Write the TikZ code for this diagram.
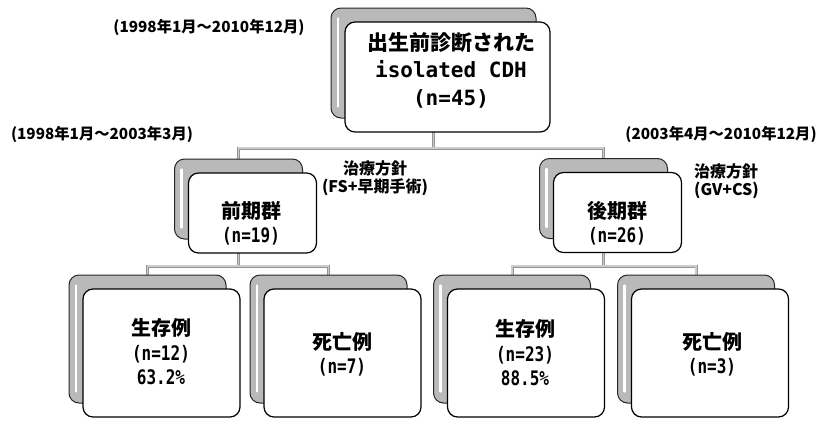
\documentclass[tikz,border=0pt]{standalone}
\usepackage{fontspec}
\setmainfont{Noto Sans CJK JP}
\newfontfamily\latmono[FakeStretch=0.8]{DejaVu Sans Mono}
\newfontfamily\latmonotop{DejaVu Sans Mono}
\pgfdeclarelayer{paper}
\pgfdeclarelayer{bg}
\pgfsetlayers{paper,bg,main}
\begin{document}
\begin{tikzpicture}[x=1pt,y=-1pt,
  frontbox/.style={draw=black, line width=1.2pt, fill=white, rounded corners=10pt, inner sep=0pt},
  backbox/.style={draw=black!85, line width=1pt, fill=gray!55, rounded corners=10pt, inner sep=0pt},
  bigbox/.style={minimum width=205pt, minimum height=110pt},
  midbox/.style={minimum width=128pt, minimum height=80pt},
  lowbox/.style={minimum width=157pt, minimum height=128pt},
  stripe/.style={draw=white, line width=2.4pt, line cap=round},
  conn/.style={draw=gray!85, double=gray!40, double distance=1.4pt, line width=0.8pt},
  boxtxt/.style={font=\fontsize{20}{24.5}\selectfont\bfseries, align=center, inner sep=0pt},
  toptxt/.style={font=\fontsize{21}{27.5}\selectfont\bfseries, align=center, inner sep=0pt},
  datetxt/.style={font=\fontsize{15.3}{18}\selectfont\bfseries, inner sep=0pt},
  notetxt/.style={font=\fontsize{16}{18}\selectfont\bfseries, inner sep=0pt}]
\useasboundingbox (0,0) rectangle (819,426);
\begin{pgfonlayer}{paper}
\fill[white] (0,0) rectangle (819,426);
\end{pgfonlayer}

% back boxes
\node[backbox, bigbox] (topb) at (433.5,63) {};
\node[backbox, midbox] (mlb) at (238.5,199) {};
\node[backbox, midbox] (mrb) at (603.5,198.5) {};
\node[backbox, lowbox] (bl1b) at (147.5,339) {};
\node[backbox, lowbox] (bl2b) at (328.5,339) {};
\node[backbox, lowbox] (br1b) at (512,339) {};
\node[backbox, lowbox] (br2b) at (696,339) {};
\foreach \b in {topb,mlb,mrb,bl1b,bl2b,br1b,br2b}{
  \draw[stripe] ([xshift=7.5pt,yshift=-11pt]\b.north west) -- ([xshift=7.5pt,yshift=12pt]\b.south west);
}

% front boxes
\node[frontbox, bigbox] (top) at (447.5,77) {};
\node[frontbox, midbox] (ml) at (252.5,213) {};
\node[frontbox, midbox] (mr) at (617.5,212.5) {};
\node[frontbox, lowbox] (bl1) at (161.5,353) {};
\node[frontbox, lowbox] (bl2) at (342.5,353) {};
\node[frontbox, lowbox] (br1) at (526,353) {};
\node[frontbox, lowbox] (br2) at (710,353) {};

% texts in boxes
\node[toptxt] (toplbl) at (451,70) {出生前診断された\\{\latmonotop\bfseries isolated CDH}\\{\latmonotop\bfseries (n=45)}};
\node[boxtxt] (mllbl) at (251,223) {前期群\\{\latmono\bfseries (n=19)}};
\node[boxtxt] (mrlbl) at (617,223) {後期群\\{\latmono\bfseries (n=26)}};
\node[boxtxt] (bl1lbl) at (161,352) {生存例\\{\latmono\bfseries (n=12)}\\{\latmono\bfseries 63.2\%}};
\node[boxtxt] (bl2lbl) at (342,354.5) {死亡例\\{\latmono\bfseries (n=7)}};
\node[boxtxt] (br1lbl) at (525,353) {生存例\\{\latmono\bfseries (n=23)}\\{\latmono\bfseries 88.5\%}};
\node[boxtxt] (br2lbl) at (712,354.5) {死亡例\\{\latmono\bfseries (n=3)}};

% outside labels
\node[datetxt] (d1) at (209,27) {(1998年1月～2010年12月)};
\node[datetxt] (d2) at (102,134) {(1998年1月～2003年3月)};
\node[datetxt] (d3) at (721,134) {(2003年4月～2010年12月)};
\node[notetxt, align=center] (t1) at (375,178.5) {治療方針\\(FS+早期手術)};
\node[notetxt, align=left, anchor=west] (t2) at (694,181) {治療方針\\(GV+CS)};

% connectors
\coordinate (j1) at (433.5,148);
\coordinate (j2) at (238.5,266);
\coordinate (j3) at (603.5,266);
\begin{pgfonlayer}{bg}
\draw[conn] (topb.center) -- (j1) -| (mlb.north);
\draw[conn] (j1) -| (mrb.north);
\draw[conn] (mlb.center) -- (j2) -| (bl1b.north);
\draw[conn] (j2) -| (bl2b.north);
\draw[conn] (mrb.center) -- (j3) -| (br1b.north);
\draw[conn] (j3) -| (br2b.north);
\end{pgfonlayer}
\end{tikzpicture}
\end{document}
